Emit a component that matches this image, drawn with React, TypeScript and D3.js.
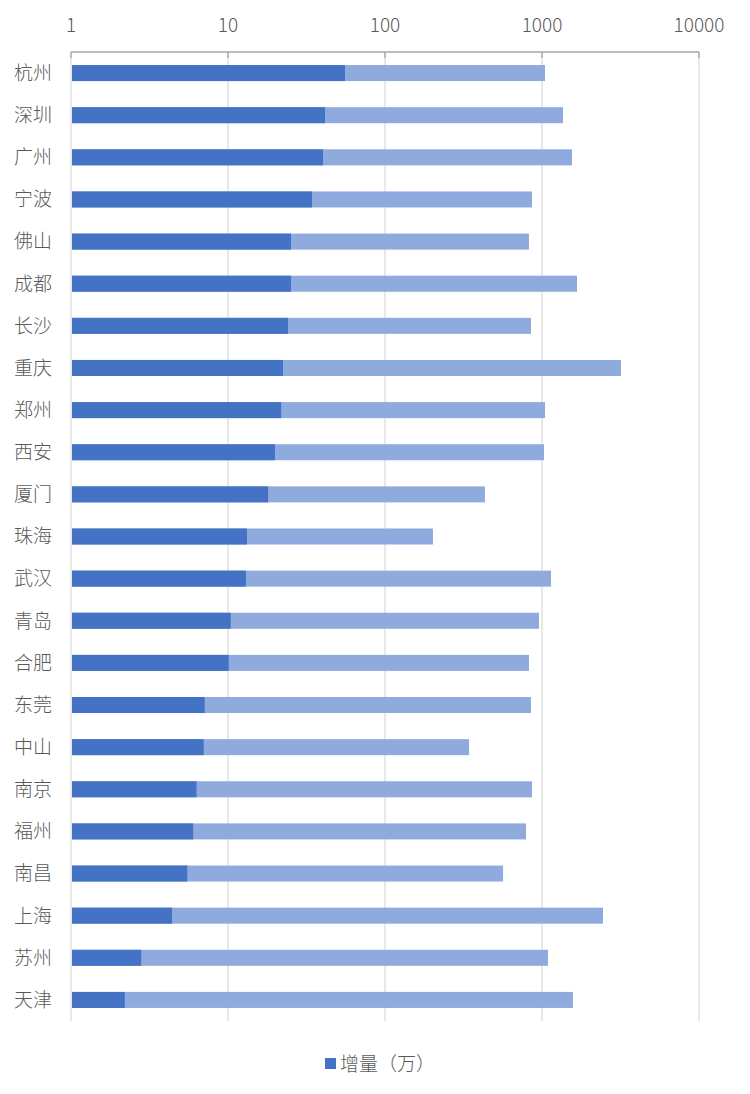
import React from "react";
import * as d3 from "d3";

const cities = ["杭州","深圳","广州","宁波","佛山","成都","长沙","重庆","郑州","西安","厦门","珠海","武汉","青岛","合肥","东莞","中山","南京","福州","南昌","上海","苏州","天津"];
const increase = [55.6,41.5,40.3,34.3,25.2,25.2,24.1,22.4,21.8,19.9,18.0,13.2,13.0,10.4,10.1,7.1,7.0,6.3,6.0,5.5,4.4,2.8,2.2];
const total = [1045,1361,1553,864,826,1671,851,3186,1045,1030,433,202,1141,957,826,851,343,864,791,565,2446,1092,1575];
const tickValues = [1,10,100,1000,10000];
const legendLabel = "增量（万）";

const W = 750, H = 1094;
const left = 71, right = 699, top = 52, bottom = 1021;
const FONT = "'Noto Sans CJK SC', 'Noto Sans', sans-serif";

export default function App() {
  const x = d3.scaleLog().domain([1, 10000]).range([left, right]);
  const y = d3.scaleBand<string>().domain(cities).range([top, bottom]).paddingInner(0.62).paddingOuter(0.31);
  const bw = y.bandwidth();
  const x0 = x(1) + 1;
  return (
    <div style={{ position: "absolute", left: 0, top: 0 }}>
      <svg width={W} height={H} style={{ display: "block", background: "#fff" }}>
        {tickValues.map((t) => (
          <line key={"g" + t} x1={x(t)} x2={x(t)} y1={top} y2={bottom} stroke="#d9d9d9" strokeWidth={1.2} />
        ))}
        {cities.map((c, i) => (
          <g key={c}>
            <rect x={x0} y={y(c)} width={x(total[i]) - x0} height={bw} fill="#8FAADC" />
            <rect x={x0} y={y(c)} width={x(increase[i]) - x0} height={bw} fill="#4472C4" />
            <text x={52} y={(y(c) as number) + bw / 2} dy="0.36em" textAnchor="end" fontFamily={FONT} fontSize={19} fontWeight={300} fill="#595959">{c}</text>
          </g>
        ))}
        <line x1={left} x2={right} y1={top} y2={top} stroke="#a6a6a6" strokeWidth={1.3} />
        {tickValues.map((t) => (
          <g key={"t" + t}>
            <line x1={x(t)} x2={x(t)} y1={top} y2={top + 6} stroke="#a6a6a6" strokeWidth={1.3} />
            <text x={x(t)} y={25} dy="0.35em" textAnchor="middle" fontFamily={FONT} fontSize={19} fontWeight={300} fill="#595959">{d3.format("d")(t)}</text>
          </g>
        ))}
        <rect x={325} y={1058} width={11} height={11} fill="#4472C4" />
        <text x={340} y={1064} dy="0.35em" fontFamily={FONT} fontSize={19} fontWeight={300} fill="#595959">{legendLabel}</text>
      </svg>
    </div>
  );
}
